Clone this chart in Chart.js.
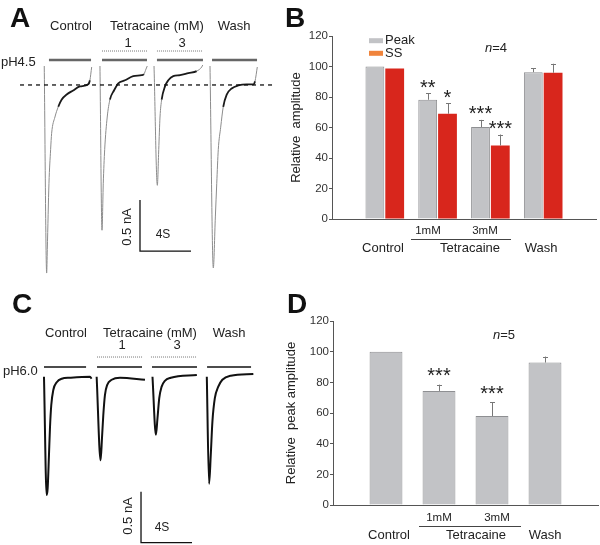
<!DOCTYPE html>
<html lang="en">
<head>
<meta charset="UTF-8">
<title>Tetracaine block of acid-evoked currents</title>
<script src="https://cdn.jsdelivr.net/npm/chart.js"></script>
<style>
  body { margin: 0; background: #fff; }
  #fig { position: relative; width: 600px; height: 545px; overflow: hidden; }
  #fig canvas { position: absolute; }
</style>
</head>
<body>
<div id="fig">
  <canvas id="chartA" width="280" height="280" style="left:0;top:0"></canvas>
  <canvas id="chartB" width="320" height="280" style="left:280px;top:0"></canvas>
  <canvas id="chartC" width="280" height="265" style="left:0;top:280px"></canvas>
  <canvas id="chartD" width="320" height="265" style="left:280px;top:280px"></canvas>
</div>
<script>
const FONT = "'Liberation Sans', Arial, sans-serif";

// current traces: [time from sweep onset (s), current (nA)]
const sweepStartA = [3.47, 7.84, 12.08, 16.47];
const controlA = [[0, 0], [0.19, -2.03], [0.24, -1.80], [0.37, -1.15], [0.50, -0.82], [0.58, -0.66], [0.84, -0.50], [1.10, -0.40], [1.36, -0.33], [1.76, -0.28], [2.27, -0.24], [2.80, -0.20], [3.45, -0.18], [3.58, -0.14], [3.72, -0.01]];
const tetra1A = [[0, 0], [0.16, -1.61], [0.26, -1.15], [0.37, -0.82], [0.57, -0.50], [0.78, -0.33], [1.10, -0.24], [1.44, -0.17], [1.96, -0.14], [2.61, -0.10], [3.27, -0.09], [3.45, -0.08], [3.61, -0.03], [3.71, 0]];
const tetra3A = [[0, 0], [0.26, -1.17], [0.37, -0.82], [0.47, -0.50], [0.60, -0.33], [0.86, -0.20], [1.12, -0.14], [1.51, -0.10], [2.04, -0.09], [2.69, -0.07], [3.35, -0.05], [3.74, -0.01], [3.82, 0.01]];
const washA = [[0, 0], [0.26, -1.98], [0.42, -1.48], [0.53, -1.15], [0.65, -0.82], [0.84, -0.60], [1.04, -0.40], [1.31, -0.28], [1.70, -0.22], [2.22, -0.19], [2.88, -0.18], [3.40, -0.18], [3.53, -0.15], [3.71, -0.01]];

const sweepStartC = [3.45, 7.58, 11.96, 16.22];
const controlC = [[0, 0], [0.21, -1.16], [0.29, -1.09], [0.39, -0.77], [0.47, -0.50], [0.57, -0.28], [0.73, -0.13], [1.0, -0.055], [1.39, -0.02], [2.04, -0.01], [3.61, 0], [3.74, -0.02]];
const tetra1C = [[0, 0], [0.31, -0.82], [0.42, -0.60], [0.52, -0.38], [0.65, -0.18], [0.83, -0.08], [1.18, -0.03], [1.83, -0.01], [3.79, -0.03]];
const tetra3C = [[0, 0], [0.27, -0.57], [0.39, -0.41], [0.53, -0.21], [0.71, -0.10], [0.97, -0.04], [1.44, -0.01], [3.48, 0.017]];
const washC = [[0, 0], [0.18, -1.05], [0.31, -0.77], [0.44, -0.44], [0.63, -0.21], [0.89, -0.10], [1.22, -0.03], [1.88, 0.01], [3.65, 0.026]];

// solution application periods (s)
const phBarA = [[3.84, 7.14], [8.0, 11.53], [12.31, 15.92], [16.63, 20.16]];
const drugBarA = [[8.0, 11.53], [12.31, 15.92]];
const phBarC = [[3.45, 6.75], [7.61, 11.14], [11.92, 15.45], [16.24, 19.69]];
const drugBarC = [[7.61, 11.14], [11.84, 15.45]];

// bar graphs (% of control)
const groups = ['Control', '1mM', '3mM', 'Wash'];
const peakB = [100, 78.2, 60.3, 96.3];
const peakErrB = [0, 4.4, 4.7, 2.7];
const ssB = [98.7, 69, 48.2, 95.9];
const ssErrB = [0, 7, 7.2, 5.9];
const sigPeakB = ['', '**', '***', ''];
const sigSsB = ['', '*', '***', ''];
const peakD = [100, 74.4, 58, 92.9];
const peakErrD = [0, 4.1, 8.9, 3.9];
const sigD = ['', '***', '***', ''];

const PX_PER_S = 12.75, PX_PER_NA = 102;

function line(ctx, x1, y1, x2, y2) {
  ctx.beginPath(); ctx.moveTo(x1, y1); ctx.lineTo(x2, y2); ctx.stroke();
}
function text(ctx, s, x, y, font, align, base) {
  ctx.font = font; ctx.textAlign = align || 'center'; ctx.textBaseline = base || 'middle';
  ctx.fillText(s, x, y);
}

function traceDecor(o) {
  return {
    id: 'traceDecor',
    afterDatasetsDraw(chart) {
      const ctx = chart.ctx, X = v => chart.scales.x.getPixelForValue(v), Y = v => chart.scales.y.getPixelForValue(v);
      ctx.save();
      ctx.strokeStyle = o.barColor; ctx.lineWidth = o.barWidth;
      o.phBars.forEach(([a, b]) => line(ctx, X(a), Y(o.phLevel), X(b), Y(o.phLevel)));
      ctx.strokeStyle = '#777'; ctx.lineWidth = 1; ctx.setLineDash([1, 1]);
      o.drugBars.forEach(([a, b]) => line(ctx, X(a), Y(o.drugLevel), X(b), Y(o.drugLevel)));
      if (o.ref) {
        ctx.strokeStyle = '#111'; ctx.lineWidth = 1.3; ctx.setLineDash([4, 4]);
        line(ctx, X(o.ref[0]), Y(o.ref[2]), X(o.ref[1]), Y(o.ref[2]));
      }
      ctx.setLineDash([]);
      ctx.strokeStyle = '#111'; ctx.lineWidth = 1.3;
      const [bt, bi] = o.scaleCorner;
      ctx.beginPath();
      ctx.moveTo(X(bt), Y(bi + 0.5)); ctx.lineTo(X(bt), Y(bi)); ctx.lineTo(X(bt + 4), Y(bi));
      ctx.stroke();
      ctx.fillStyle = '#111';
      text(ctx, o.letter, o.letterPos[0], o.letterPos[1], 'bold 28px ' + FONT, 'left', 'alphabetic');
      ctx.fillStyle = '#222';
      const f = '13px ' + FONT;
      o.labels.forEach(l => text(ctx, l[0], l[1], l[2], f));
      text(ctx, o.ph[0], o.ph[1], o.ph[2], f, 'left');
      text(ctx, '4S', o.sText[0], o.sText[1], '12px ' + FONT);
      ctx.save();
      ctx.translate(o.nAText[0], o.nAText[1]); ctx.rotate(-Math.PI / 2);
      text(ctx, '0.5 nA', 0, 0, f);
      ctx.restore();
      ctx.restore();
    }
  };
}

function traceChart(id, sweeps, starts, yTop, segment, decor) {
  const datasets = sweeps.map((pts, k) => ({
    data: pts.map(p => ({ x: starts[k] + p[0], y: p[1] })),
    showLine: true, pointRadius: 0, borderColor: '#111', borderWidth: 1.8,
    cubicInterpolationMode: 'monotone', segment
  }));
  const h = document.getElementById(id).height;
  return new Chart(document.getElementById(id), {
    type: 'scatter',
    data: { datasets },
    options: {
      responsive: false, animation: false, devicePixelRatio: 1, events: [],
      layout: { padding: 0 },
      plugins: { legend: { display: false }, tooltip: { enabled: false } },
      scales: {
        x: { type: 'linear', display: false, min: 0, max: 280 / PX_PER_S },
        y: { type: 'linear', display: false, min: -(h - yTop) / PX_PER_NA, max: yTop / PX_PER_NA }
      }
    },
    plugins: [decor]
  });
}

// fast part of the pH4.5 traces is thin grey, the slow noisy part dark
const slowA = c => c.p0.parsed.y > -0.45 && c.p1.parsed.y > -0.45 && c.p0.parsed.y < -0.04 && c.p1.parsed.y < -0.04;
traceChart('chartA', [controlA, tetra1A, tetra3A, washA], sweepStartA, 66,
  { borderColor: c => slowA(c) ? '#1a1a1a' : '#8c8c8c', borderWidth: c => slowA(c) ? 1.8 : 1 },
  traceDecor({
    letter: 'A', letterPos: [10, 27],
    labels: [['Control', 71, 26], ['Tetracaine (mM)', 157, 26], ['Wash', 234, 26], ['1', 128, 43], ['3', 182, 43]],
    ph: ['pH4.5', 1, 62],
    phBars: phBarA, phLevel: 0.06, barColor: '#666', barWidth: 2.5,
    drugBars: drugBarA, drugLevel: 0.147,
    ref: [1.57, 21.57, -0.186],
    scaleCorner: [10.98, -1.814], sText: [163, 235], nAText: [127, 227]
  }));

traceChart('chartC', [controlC, tetra1C, tetra3C, washC], sweepStartC, 96.7,
  { borderColor: '#111', borderWidth: 2 },
  traceDecor({
    letter: 'C', letterPos: [12, 33],
    labels: [['Control', 66, 53], ['Tetracaine (mM)', 150, 53], ['Wash', 229, 53], ['1', 122, 65], ['3', 177, 65]],
    ph: ['pH6.0', 3, 91],
    phBars: phBarC, phLevel: 0.095, barColor: '#111', barWidth: 1.5,
    drugBars: drugBarC, drugLevel: 0.193,
    ref: null,
    scaleCorner: [11.06, -1.627], sText: [162, 248], nAText: [128, 236]
  }));

function barDecor(o) {
  return {
    id: 'barDecor',
    afterDatasetsDraw(chart) {
      const ctx = chart.ctx, ys = chart.scales.y;
      ctx.save();
      o.errors.forEach((errs, di) => {
        const meta = chart.getDatasetMeta(di);
        const vals = chart.data.datasets[di].data;
        errs.forEach((e, i) => {
          const bar = meta.data[i + 1];
          const top = ys.getPixelForValue(vals[i + 1] + e);
          if (e) {
            ctx.strokeStyle = '#777'; ctx.lineWidth = 1;
            const bx = Math.round(bar.x) + 0.5;
            line(ctx, bx, bar.y, bx, top);
            line(ctx, bx - 2.5, Math.round(top) + 0.5, bx + 2.5, Math.round(top) + 0.5);
          }
          const s = o.stars[di][i];
          if (s) {
            ctx.fillStyle = '#222';
            text(ctx, s, bar.x, top - o.starGap + 0.58 * 20, '20px ' + FONT, 'center', 'alphabetic');
          }
        });
      });
      ctx.fillStyle = '#111';
      text(ctx, o.letter, o.letterPos[0], o.letterPos[1], 'bold 28px ' + FONT, 'left', 'alphabetic');
      ctx.fillStyle = '#222';
      const f = '13px ' + FONT, fs = '11.5px ' + FONT;
      const L = o.xl;
      text(ctx, 'Control', L.control[0], L.control[1], f);
      text(ctx, 'Tetracaine', L.tetra[0], L.tetra[1], f);
      text(ctx, 'Wash', L.wash[0], L.wash[1], f);
      text(ctx, groups[1], L.c1[0], L.c1[1], fs);
      text(ctx, groups[2], L.c3[0], L.c3[1], fs);
      ctx.strokeStyle = '#444'; ctx.lineWidth = 1;
      line(ctx, L.under[0], L.under[2] + 0.5, L.under[1], L.under[2] + 0.5);
      ctx.font = 'italic 13px ' + FONT; ctx.textAlign = 'left'; ctx.textBaseline = 'middle';
      ctx.fillText('n', o.n[1], o.n[2]);
      const nw = ctx.measureText('n').width;
      ctx.font = f; ctx.fillText(o.n[0], o.n[1] + nw, o.n[2]);
      if (o.legend) {
        o.legend.forEach(([label, color, y]) => {
          ctx.fillStyle = color; ctx.fillRect(89, y - 2.5, 14, 5);
          ctx.fillStyle = '#222'; text(ctx, label, 105, y, f, 'left');
        });
      }
      ctx.restore();
    }
  };
}

function barChart(id, datasets, title, padTop, padRight, axisW, xAxisH, titlePad, decor) {
  return new Chart(document.getElementById(id), {
    type: 'bar',
    data: { labels: ['', ...groups, ''], datasets },
    options: {
      responsive: false, animation: false, devicePixelRatio: 1, events: [],
      layout: { padding: { top: padTop, right: padRight, left: 0, bottom: 0 } },
      plugins: { legend: { display: false }, tooltip: { enabled: false } },
      scales: {
        x: {
          offset: false,
          grid: { display: false },
          border: { display: true, color: '#555', width: 1 },
          ticks: { display: false },
          afterFit: s => { s.height = xAxisH; }
        },
        y: {
          min: 0, max: 120,
          ticks: { stepSize: 20, color: '#333', padding: 1, font: { size: 11.5, family: FONT } },
          grid: { drawOnChartArea: false, tickLength: 3, color: '#555' },
          border: { color: '#555', width: 1 },
          title: { display: true, text: title, color: '#222', font: { size: 13, family: FONT }, padding: { top: titlePad, bottom: 0 } },
          afterFit: s => { s.width = axisW; }
        }
      }
    },
    plugins: [decor]
  });
}

const pad = a => [null, ...a, null];
const greyBar = { backgroundColor: '#c2c3c6', borderColor: '#8e8f92', borderWidth: 1 };

barChart('chartB', [
  { label: 'Peak', data: pad(peakB), ...greyBar, categoryPercentage: 0.75, barPercentage: 0.95 },
  { label: 'SS', data: pad(ssB), backgroundColor: '#d8261c', borderWidth: 0, categoryPercentage: 0.75, barPercentage: 0.95 }
], 'Relative  amplitude', 36, 4, 52, 61, 9,
  barDecor({
    errors: [peakErrB, ssErrB], stars: [sigPeakB, sigSsB], starGap: 11,
    letter: 'B', letterPos: [5, 27],
    xl: { control: [103, 248], tetra: [190, 248], wash: [261, 248], c1: [148, 231], c3: [205, 231], under: [131, 231, 239] },
    n: ['=4', 205, 48],
    legend: [['Peak', '#c2c3c6', 40.7], ['SS', '#f0843c', 53.3]]
  }));

barChart('chartD', [
  { label: 'Peak', data: pad(peakD), ...greyBar, categoryPercentage: 0.62, barPercentage: 1 }
], 'Relative  peak amplitude', 41, 2, 53, 40, 4,
  barDecor({
    errors: [peakErrD], stars: [sigD], starGap: 14,
    letter: 'D', letterPos: [7, 33],
    xl: { control: [109, 255], tetra: [196, 255], wash: [265, 255], c1: [159, 238], c3: [217, 238], under: [139, 241, 246] },
    n: ['=5', 213, 55],
    legend: null
  }));
</script>
</body>
</html>
